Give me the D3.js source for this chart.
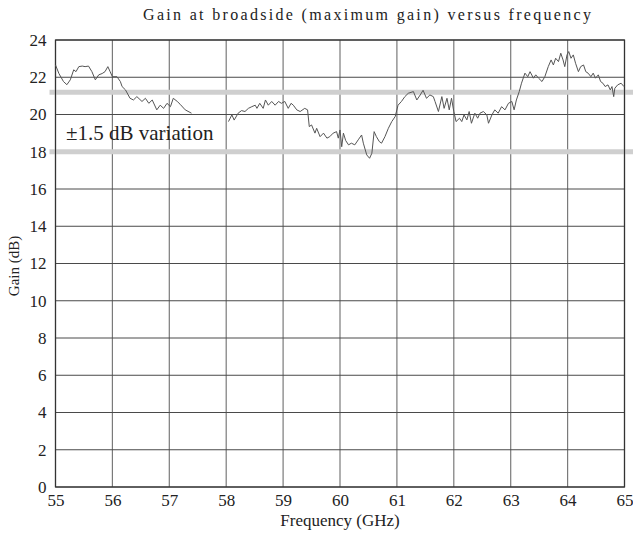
<!DOCTYPE html>
<html>
<head>
<meta charset="utf-8">
<script src="https://cdn.jsdelivr.net/npm/d3@7"></script>
<style>
  body { margin: 0; background: #fff; }
  text { font-family: "Liberation Serif", "DejaVu Serif", serif; fill: #222; }
</style>
</head>
<body>
<div id="chart"></div>
<script>
// measured gain trace, null marks the gap in the sweep
var freqs = [55.0, 55.06, 55.14, 55.2, 55.26, 55.32, 55.36, 55.41, 55.47, 55.52, 55.58, 55.64, 55.7, 55.76, 55.82, 55.87, 55.92, 55.96, 56.0, 56.08, 56.14, 56.17, 56.23, 56.31, 56.37, 56.43, 56.52, 56.58, 56.64, 56.7, 56.78, 56.84, 56.9, 56.96, 57.02, 57.07, 57.14, 57.19, 57.28, 57.39,
  null,
  58.04, 58.1, 58.14, 58.21, 58.27, 58.33, 58.39, 58.45, 58.51, 58.54, 58.59, 58.65, 58.69, 58.74, 58.8, 58.86, 58.92, 58.97, 59.03, 59.09, 59.14, 59.18, 59.24, 59.3, 59.38, 59.43, 59.46, 59.5, 59.56, 59.59, 59.65, 59.71, 59.77, 59.82, 59.88, 59.94, 59.97, 60.0, 60.03, 60.06, 60.1, 60.15, 60.2, 60.26, 60.32, 60.38, 60.41, 60.47, 60.52, 60.56, 60.6, 60.64, 60.69, 60.73, 60.79, 60.85, 60.91, 60.97, 61.02, 61.08, 61.14, 61.2, 61.29, 61.35, 61.41, 61.46, 61.52, 61.58, 61.64, 61.67, 61.73, 61.79, 61.83, 61.88, 61.92, 61.96, 62.0, 62.04, 62.1, 62.14, 62.18, 62.23, 62.27, 62.31, 62.37, 62.42, 62.46, 62.52, 62.58, 62.61, 62.67, 62.72, 62.78, 62.84, 62.9, 62.96, 63.02, 63.06, 63.1, 63.15, 63.19, 63.25, 63.3, 63.34, 63.4, 63.44, 63.49, 63.55, 63.6, 63.66, 63.71, 63.75, 63.79, 63.84, 63.88, 63.92, 63.95, 63.99, 64.02, 64.06, 64.1, 64.14, 64.19, 64.23, 64.28, 64.32, 64.36, 64.41, 64.45, 64.49, 64.54, 64.58, 64.62, 64.66, 64.71, 64.75, 64.78, 64.81, 64.83, 64.88, 64.94, 64.99];
var gains = [22.66, 22.2, 21.77, 21.6, 21.86, 22.4, 22.3, 22.57, 22.6, 22.57, 22.6, 22.3, 21.86, 22.13, 22.2, 22.3, 22.57, 22.3, 22.03, 22.03, 21.77, 21.5, 21.32, 20.87, 20.78, 20.96, 20.7, 20.87, 20.6, 20.78, 20.25, 20.5, 20.33, 20.6, 20.42, 20.87, 20.7, 20.55, 20.25, 20.07,
  null,
  19.62, 19.98, 19.7, 20.07, 20.21, 20.16, 20.33, 20.42, 20.5, 20.33, 20.6, 20.33, 20.78, 20.5, 20.7, 20.5, 20.7, 20.6, 20.7, 20.33, 20.6, 20.5, 20.25, 20.16, 20.33, 20.25, 19.35, 19.44, 19.0, 19.26, 18.81, 19.0, 18.73, 18.81, 19.0, 19.08, 18.73, 19.17, 18.27, 19.0, 18.6, 18.37, 18.46, 18.37, 18.64, 18.9, 18.46, 17.83, 17.65, 17.92, 19.08, 18.81, 18.55, 18.46, 18.81, 19.26, 19.62, 19.89, 20.5, 20.7, 20.96, 21.14, 21.23, 20.78, 21.05, 21.3, 20.87, 21.05, 20.96, 20.7, 20.16, 20.96, 20.33, 20.87, 20.25, 20.87, 20.16, 19.62, 19.8, 19.62, 19.98, 19.71, 20.16, 19.53, 20.07, 19.8, 20.07, 20.16, 19.98, 19.53, 19.98, 20.25, 20.07, 20.42, 20.25, 20.6, 20.7, 20.25, 20.78, 21.23, 21.68, 22.22, 22.03, 22.3, 21.95, 22.13, 21.95, 21.77, 22.03, 22.57, 22.93, 22.66, 23.02, 22.84, 23.29, 22.93, 22.57, 23.2, 23.38, 23.02, 23.2, 22.75, 22.3, 22.57, 22.66, 22.3, 22.22, 22.03, 22.22, 21.95, 22.13, 21.77, 21.68, 21.5, 21.59, 21.32, 21.5, 20.96, 21.41, 21.59, 21.68, 21.5];

var xTicks = [55, 56, 57, 58, 59, 60, 61, 62, 63, 64, 65];
var yTicks = [0, 2, 4, 6, 8, 10, 12, 14, 16, 18, 20, 22, 24];
var bandLevels = [21.2, 18.0];

var W = 633, H = 533;
var margin = {top: 40, right: 8.5, bottom: 46, left: 55.5};

var svg = d3.select("#chart").append("svg")
  .attr("width", W)
  .attr("height", H);

var x = d3.scaleLinear().domain([55, 65]).range([margin.left, W - margin.right]);
var y = d3.scaleLinear().domain([0, 24]).range([H - margin.bottom, margin.top]);

// vertical grid
svg.append("g")
  .selectAll("line")
  .data(xTicks)
  .enter().append("line")
  .attr("x1", function(d){ return x(d); })
  .attr("x2", function(d){ return x(d); })
  .attr("y1", y(0))
  .attr("y2", y(24))
  .attr("stroke", "#7a7a7a")
  .attr("stroke-width", 1.2);

// horizontal grid
svg.append("g")
  .selectAll("line")
  .data(yTicks)
  .enter().append("line")
  .attr("x1", x(55))
  .attr("x2", x(65))
  .attr("y1", function(d){ return y(d); })
  .attr("y2", function(d){ return y(d); })
  .attr("stroke", "#4a4a4a")
  .attr("stroke-width", 1);

// +/-1.5 dB bands
svg.append("g")
  .selectAll("line")
  .data(bandLevels)
  .enter().append("line")
  .attr("x1", x(55) - 6)
  .attr("x2", W)
  .attr("y1", function(d){ return y(d); })
  .attr("y2", function(d){ return y(d); })
  .attr("stroke", "#cfcfcf")
  .attr("stroke-width", 5);

// axes (labels only, grid drawn above)
var xaxis = d3.axisBottom(x).tickValues(xTicks).tickSize(0).tickPadding(7);
var yaxis = d3.axisLeft(y).tickValues(yTicks).tickSize(0).tickPadding(9);

var gX = svg.append("g")
  .attr("transform", "translate(0," + y(0) + ")")
  .call(xaxis);
var gY = svg.append("g")
  .attr("transform", "translate(" + x(55) + ",0)")
  .call(yaxis);

[gX, gY].forEach(function(g){
  g.select(".domain").remove();
  g.selectAll("text")
    .attr("fill", "#222")
    .style("font-family", "Liberation Serif, serif")
    .style("font-size", "17px");
});

// frame
svg.append("rect")
  .attr("x", x(55))
  .attr("y", y(24))
  .attr("width", x(65) - x(55))
  .attr("height", y(0) - y(24))
  .attr("fill", "none")
  .attr("stroke", "#333")
  .attr("stroke-width", 1.2);

// trace
var pts = freqs.map(function(f, i){ return {f: f, g: gains[i]}; });
var line = d3.line()
  .defined(function(d){ return d.f != null; })
  .x(function(d){ return x(d.f); })
  .y(function(d){ return y(d.g); });

svg.append("path")
  .datum(pts)
  .attr("d", line)
  .attr("fill", "none")
  .attr("stroke", "#555")
  .attr("stroke-width", 1);

// texts
svg.append("text")
  .attr("x", 367)
  .attr("y", 20)
  .attr("text-anchor", "middle")
  .attr("textLength", 448)
  .style("font-size", "16px")
  .text("Gain at broadside (maximum gain) versus frequency");

svg.append("text")
  .attr("x", 340)
  .attr("y", 526)
  .attr("text-anchor", "middle")
  .style("font-size", "17px")
  .text("Frequency (GHz)");

svg.append("text")
  .attr("transform", "translate(19," + 266 + ") rotate(-90)")
  .attr("text-anchor", "middle")
  .style("font-size", "15px")
  .text("Gain (dB)");

svg.append("text")
  .attr("x", 66)
  .attr("y", 140)
  .style("font-size", "21px")
  .text("\u00b11.5 dB variation");
</script>
</body>
</html>
